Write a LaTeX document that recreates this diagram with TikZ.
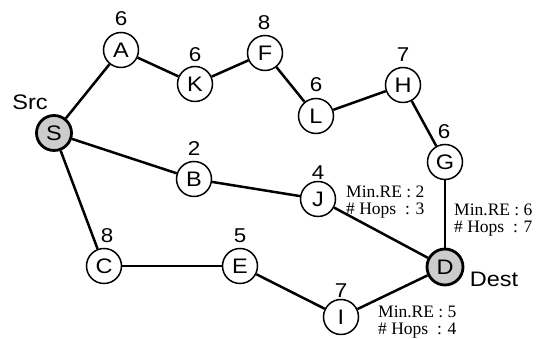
\documentclass[tikz,border=0pt]{standalone}
\usepackage{fontspec}
\setmainfont[FakeStretch=1.12]{Liberation Sans}
\newfontfamily\annfont{Liberation Serif}
\begin{document}
\begin{tikzpicture}[x=1pt,y=1pt,
  vtx/.style={circle,draw,line width=1.5pt,minimum size=35pt,inner sep=0pt,fill=white,font=\fontsize{21}{21}\selectfont},
  endv/.style={vtx,fill=black!20,line width=2.8pt},
  num/.style={inner sep=0pt,font=\fontsize{20}{20}\selectfont},
  lbl/.style={inner sep=0pt,font=\fontsize{21}{21}\selectfont},
  ann/.style={inner sep=0pt,anchor=west,align=left,font=\annfont\fontsize{17.5}{17}\selectfont},
  edge/.style={line width=2.5pt}]
\useasboundingbox (0,0) rectangle (539,339);
% nodes (y = 339 - pixel y)
\node[endv] (S) at (54,206) {S};
\node[vtx] (A) at (121,289) {A};
\node[vtx] (K) at (195,255) {K};
\node[vtx] (F) at (265,286) {F};
\node[vtx] (L) at (316,223) {L};
\node[vtx] (H) at (403,254) {H};
\node[vtx] (G) at (445,177) {G};
\node[vtx] (B) at (194,160) {B};
\node[vtx] (J) at (318,140) {J};
\node[vtx] (C) at (104,73) {C};
\node[vtx] (E) at (240,73) {E};
\node[vtx] (I) at (341,22) {I};
\node[endv,minimum size=36pt] (D) at (445,72) {D};
% edges
\draw[edge] (S) -- (A);
\draw[edge] (A) -- (K);
\draw[edge] (K) -- (F);
\draw[edge] (F) -- (L);
\draw[edge] (L) -- (H);
\draw[edge] (H) -- (G);
\draw[edge] (G) -- (D);
\draw[edge] (S) -- (B);
\draw[edge] (B) -- (J);
\draw[edge] (J) -- (D);
\draw[edge] (S) -- (C);
\draw[edge] (C) -- (E);
\draw[edge] (E) -- (I);
\draw[edge] (I) -- (D);
% numbers
\node[num] (nA) at (121,320) {6};
\node[num] (nK) at (195,284) {6};
\node[num] (nF) at (264,316) {8};
\node[num] (nL) at (316,254) {6};
\node[num] (nH) at (403,284) {7};
\node[num] (nG) at (444,207) {6};
\node[num] (nB) at (194,190) {2};
\node[num] (nJ) at (318,166) {4};
\node[num] (nC) at (107,103) {8};
\node[num] (nE) at (240,103) {5};
\node[num] (nI) at (341,48) {7};
\node[lbl] (src) at (30,237) {Src};
\node[lbl] (dst) at (494,60) {Dest};
% annotations
\node[ann] (a1) at (346,136.5) {Min.RE : 2\\\# Hops\ \ : 3};
\node[ann] (a2) at (454,118.5) {Min.RE : 6\\\# Hops\ \ : 7};
\node[ann] (a3) at (378,17) {Min.RE : 5\\\# Hops\ \ : 4};
\end{tikzpicture}
\end{document}
